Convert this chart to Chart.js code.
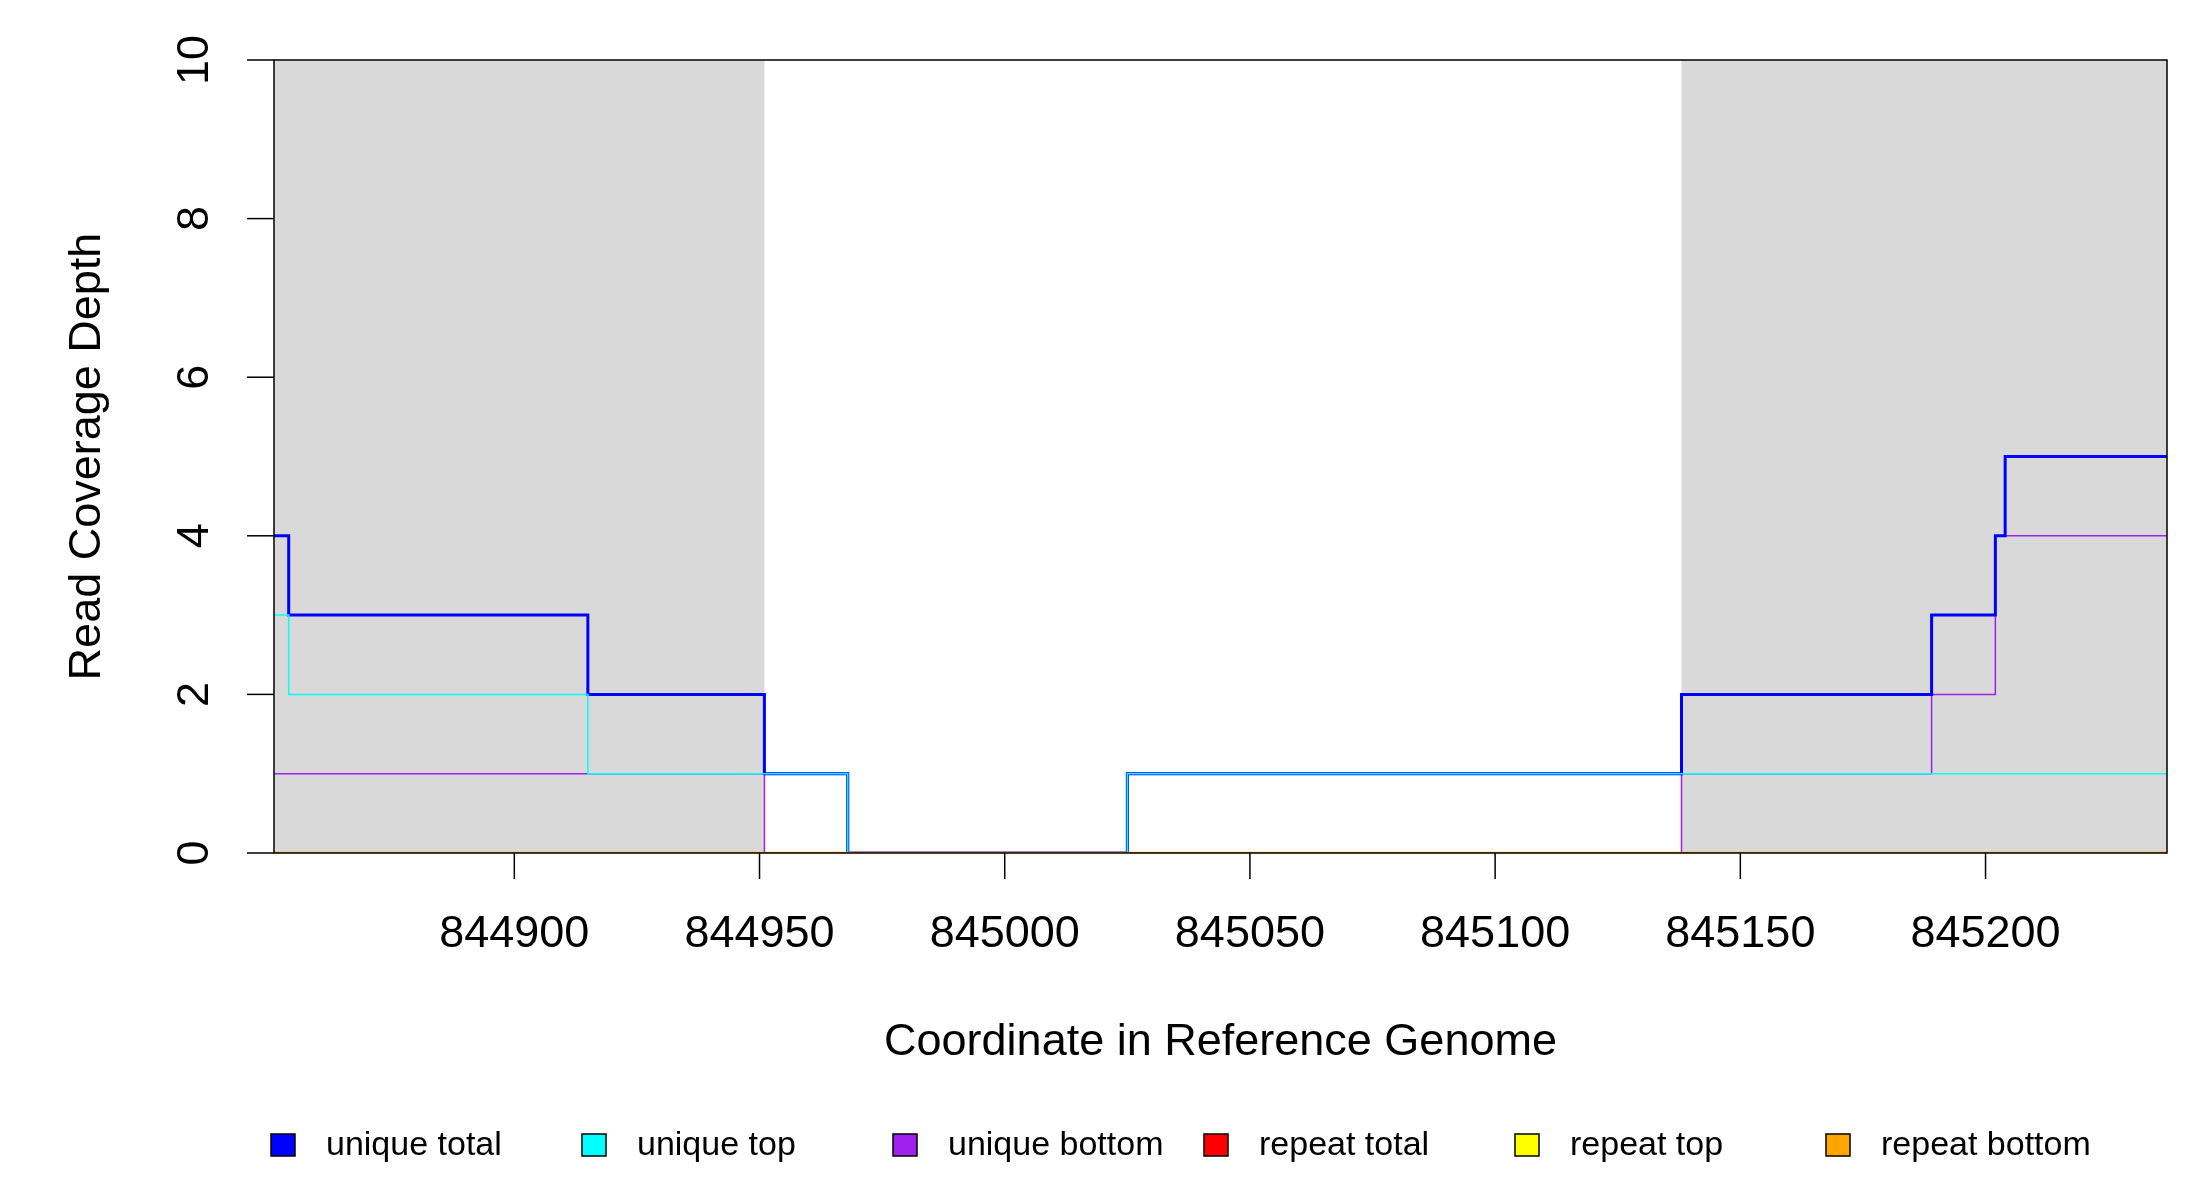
<!DOCTYPE html>
<html>
<head>
<meta charset="utf-8">
<script src="https://cdn.jsdelivr.net/npm/chart.js@4/dist/chart.umd.min.js"></script>
<style>
  body { margin: 0; background: #fff; }
  #wrap { width: 2200px; height: 1200px; }
</style>
</head>
<body>
<div id="wrap"><canvas id="myChart"></canvas></div>
<script>
// x range of the plot
const xMin = 844851;
const xMax = 845237;

// step positions (where a new value begins) and the values
const totalSteps = [844851, 844854, 844915, 844951, 844968, 845025, 845138, 845189, 845202, 845204];
const totalValues = [4, 3, 2, 1, 0, 1, 2, 3, 4, 5];

const topSteps = [844851, 844854, 844915, 844968, 845025];
const topValues = [3, 2, 1, 0, 1];

const bottomSteps = [844851, 844951, 845138, 845189, 845202];
const bottomValues = [1, 0, 1, 2, 4];

const repeatSteps = [844851];
const repeatTotalValues = [0];
const repeatTopValues = [0];
const repeatBottomValues = [0];

// shaded regions
const bands = [[844851, 844951], [845138, 845237]];

const xTicks = [844900, 844950, 845000, 845050, 845100, 845150, 845200];
const yTicks = [0, 2, 4, 6, 8, 10];

const seriesNames = ['unique total', 'unique top', 'unique bottom', 'repeat total', 'repeat top', 'repeat bottom'];
const seriesColors = ['#0000ff', '#00ffff', '#a020f0', '#ff0000', '#ffff00', '#ffa500'];

function stepPoints(steps, values) {
    const pts = steps.map((s, i) => ({ x: s, y: values[i] }));
    pts.push({ x: xMax, y: values[values.length - 1] });
    return pts;
}

const allSeries = [
    stepPoints(totalSteps, totalValues),
    stepPoints(topSteps, topValues),
    stepPoints(bottomSteps, bottomValues),
    stepPoints(repeatSteps, repeatTotalValues),
    stepPoints(repeatSteps, repeatTopValues),
    stepPoints(repeatSteps, repeatBottomValues)
];
const widths = [3, 1.5, 1.5, 2, 2, 2.5];

const data = {
    datasets: allSeries.map((pts, i) => ({
        label: seriesNames[i],
        data: pts,
        borderColor: seriesColors[i],
        borderWidth: widths[i],
        stepped: 'before',
        pointRadius: 0,
        fill: false,
        order: i === 0 ? 4 : (i === 1 ? 3 : (i === 2 ? 5 : 6 - i))
    }))
};

const font = '"Liberation Sans", Arial, sans-serif';

// draws gray bands, the box, ticks, labels and legend
const decorations = {
    id: 'decorations',
    beforeDatasetsDraw(chart) {
        const { ctx, chartArea: a, scales: { x, y } } = chart;
        ctx.save();
        ctx.fillStyle = '#d9d9d9';
        bands.forEach(b => {
            const x0 = x.getPixelForValue(b[0]);
            const x1 = x.getPixelForValue(b[1]);
            ctx.fillRect(x0, a.top, x1 - x0, a.bottom - a.top);
        });
        ctx.restore();
    },
    afterDraw(chart) {
        const { ctx, chartArea: a, scales: { x, y } } = chart;
        ctx.save();
        ctx.strokeStyle = '#000';
        ctx.lineWidth = 1.5;
        ctx.strokeRect(a.left, a.top, a.right - a.left, a.bottom - a.top);

        ctx.fillStyle = '#000';
        ctx.font = '45px ' + font;
        // x ticks
        ctx.textAlign = 'center';
        ctx.textBaseline = 'middle';
        xTicks.forEach(v => {
            const px = x.getPixelForValue(v);
            ctx.beginPath();
            ctx.moveTo(px, a.bottom);
            ctx.lineTo(px, a.bottom + 26);
            ctx.stroke();
            ctx.fillText(String(v), px, 935);
        });
        // y ticks, rotated labels
        yTicks.forEach(v => {
            const py = y.getPixelForValue(v);
            ctx.beginPath();
            ctx.moveTo(a.left - 27, py);
            ctx.lineTo(a.left, py);
            ctx.stroke();
            ctx.save();
            ctx.translate(196, py);
            ctx.rotate(-Math.PI / 2);
            ctx.fillText(String(v), 0, 0);
            ctx.restore();
        });
        // axis titles
        ctx.fillText('Coordinate in Reference Genome', (a.left + a.right) / 2, 1043);
        ctx.save();
        ctx.translate(88, (a.top + a.bottom) / 2);
        ctx.rotate(-Math.PI / 2);
        ctx.fillText('Read Coverage Depth', 0, 0);
        ctx.restore();

        // legend
        ctx.font = '34px ' + font;
        ctx.textAlign = 'left';
        seriesNames.forEach((name, i) => {
            const lx = 271 + i * 311;
            ctx.fillStyle = seriesColors[i];
            ctx.fillRect(lx, 1134, 24, 22);
            ctx.strokeStyle = '#000';
            ctx.lineWidth = 1.5;
            ctx.strokeRect(lx, 1134, 24, 22);
            ctx.fillStyle = '#000';
            ctx.fillText(name, lx + 55, 1146);
        });
        ctx.restore();
    }
};

const config = {
    type: 'line',
    data: data,
    options: {
        responsive: true,
        maintainAspectRatio: false,
        animation: false,
        layout: { padding: { left: 274, right: 33, top: 60, bottom: 347 } },
        plugins: {
            legend: { display: false },
            tooltip: { enabled: false }
        },
        scales: {
            x: { type: 'linear', min: xMin, max: xMax, display: false },
            y: { min: 0, max: 10, display: false }
        }
    },
    plugins: [decorations]
};

window.onload = function() {
    const ctx = document.getElementById('myChart').getContext('2d');
    const myChart = new Chart(ctx, config);
};
</script>
</body>
</html>
